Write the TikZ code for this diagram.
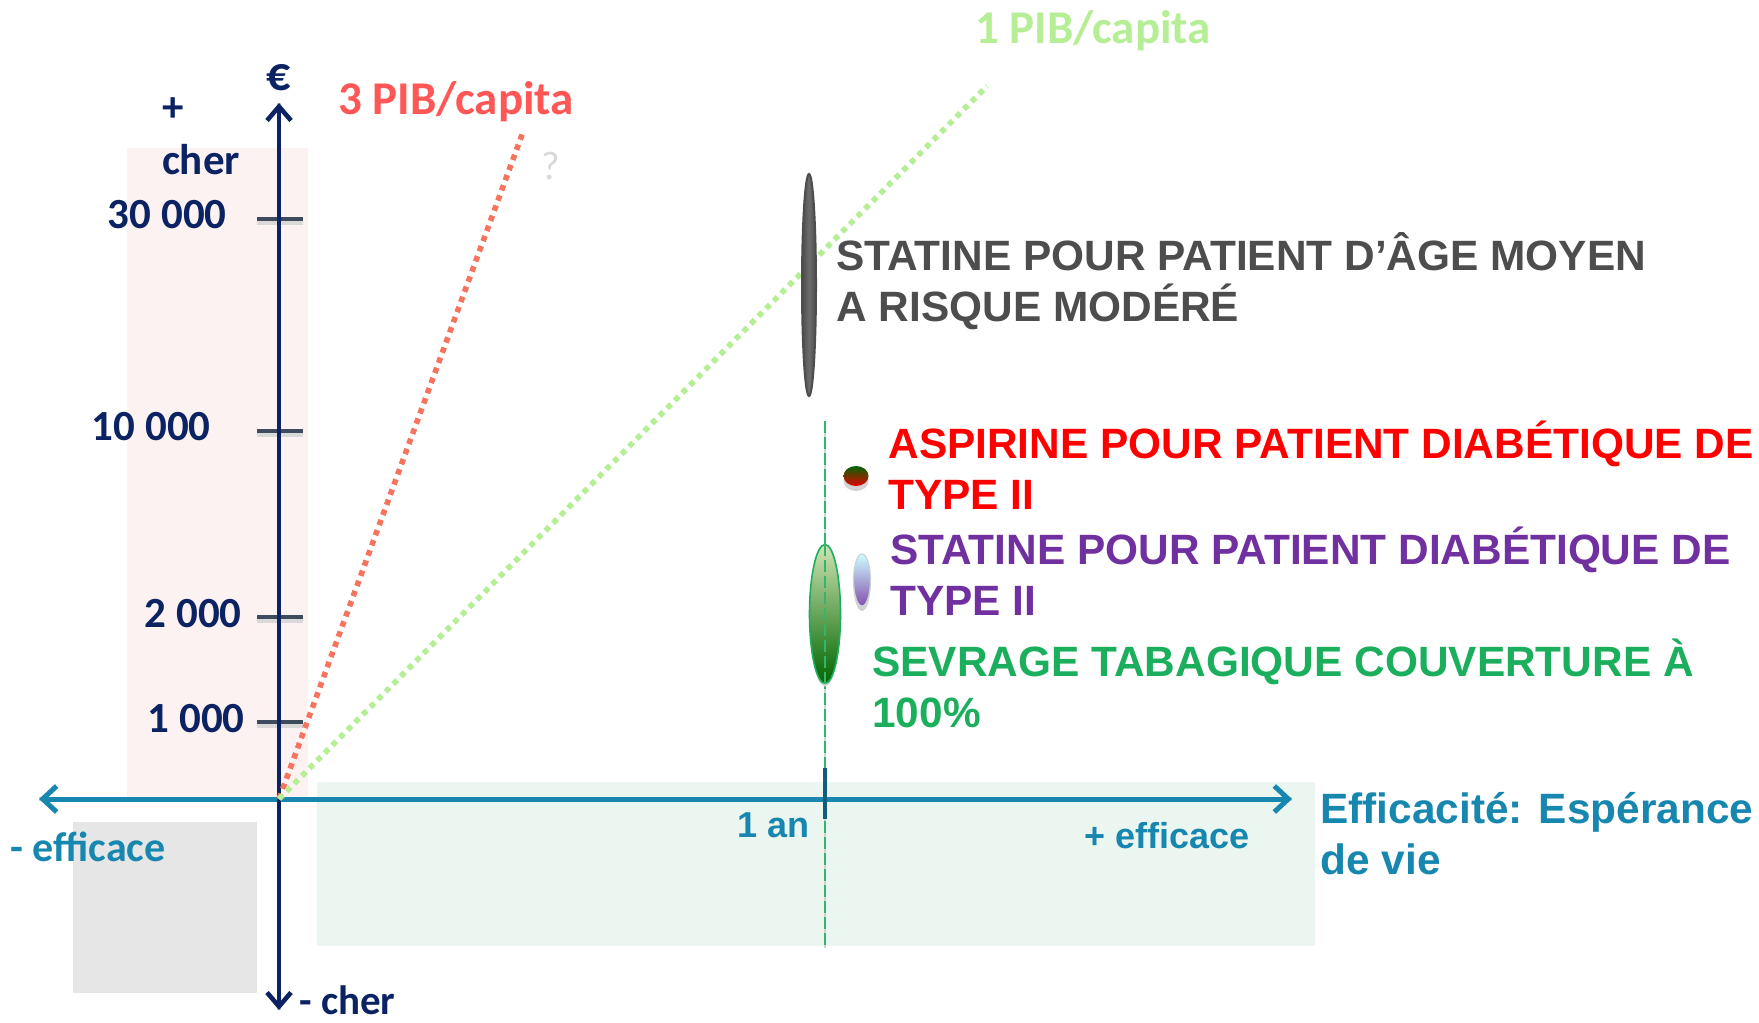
\documentclass[tikz,border=0pt]{standalone}
\usepackage{fontspec}
\setmainfont{Carlito}
\newfontfamily\arialfont{Liberation Sans}
\usetikzlibrary{arrows.meta,shapes.geometric,shadows}
\definecolor{navy}{HTML}{0B2363}
\definecolor{teal}{HTML}{1787AF}
\definecolor{tickgray}{HTML}{3D4B5C}
\definecolor{pinkbg}{HTML}{FDF2F2}
\definecolor{graybg}{HTML}{E6E6E6}
\definecolor{greenbg}{HTML}{ECF6F0}
\definecolor{redline}{HTML}{F6735E}
\definecolor{redlab}{HTML}{FF5656}
\definecolor{greenline}{HTML}{B6EE96}
\definecolor{darkgray}{HTML}{4D4D4D}
\definecolor{purp}{HTML}{7030A0}
\definecolor{sevgreen}{HTML}{1BAE5C}
\begin{document}
\begin{tikzpicture}[x=0.5pt,y=-0.5pt,
    axisy/.style={navy,line width=2.3pt,{Straight Barb[length=7pt,width=12pt]}-{Straight Barb[length=7pt,width=12pt]}},
    axisx/.style={teal,line width=2.5pt,{Straight Barb[length=7pt,width=13pt]}-{Straight Barb[length=7pt,width=13pt]}},
    shade line/.style={gray!35,line width=2.2pt,xshift=1pt,yshift=-1.5pt},
    tickmark/.style={tickgray,line width=2.2pt},
    ylab/.style={navy,font=\bfseries\fontsize{21.5}{24}\selectfont,inner sep=0pt},
    caption/.style={font=\arialfont\bfseries\fontsize{21.2}{25.5}\selectfont,align=left,inner sep=0pt,anchor=west},
    xlab/.style={teal,inner sep=0pt},
    ratio/.style={line width=2.8pt,dash pattern=on 2.8pt off 2.6pt}]
\useasboundingbox (0,0) rectangle (1759,1022);
\fill[pinkbg] (127,148) rectangle (308,799);
\fill[graybg] (73,822) rectangle (257,993);
\fill[greenbg] (317,782) rectangle (1315,946);
\coordinate (O) at (279,799);
\coordinate (ytop) at (279,103);
\coordinate (ybot) at (279,1010);
\coordinate (xl) at (39,799);
\coordinate (xr) at (1292,799);
\coordinate (r3) at (523,132);
\coordinate (g1) at (987,86);
\coordinate (gtop) at (825,421);
\coordinate (gbot) at (825,948);
\coordinate (antop) at (825,768);
\coordinate (anbot) at (825,819);
\foreach \y in {219,431,617,722}{
  \draw[gray!30,line width=2pt] (257,\y+4) -- (303,\y+4);
  \draw[tickmark] (257,\y) -- (303,\y);
}
\draw[shade line] (ybot) -- (ytop);
\draw[shade line] (xl) -- (xr);
\draw[axisx] (xl) -- (xr);
\draw[axisy] (ybot) -- (ytop);
\draw[redline,ratio] (O) -- (r3);
\draw[greenline,ratio] (O) -- (g1);
\draw[gray!35,line width=1.3pt] (gtop) -- (gbot);
\draw[sevgreen!90,line width=1.3pt,dash pattern=on 6pt off 2pt] (gtop) -- (gbot);
\draw[teal!70!black,line width=2pt] (antop) -- (anbot);
\node[ylab,anchor=east] (v30) at (227,215) {30 000};
\node[ylab,anchor=east] (v10) at (211,427) {10 000};
\node[ylab,anchor=east] (v2) at (242,614) {2 000};
\node[ylab,anchor=east] (v1) at (245,719) {1 000};
\node[ylab] (plus) at (173,110) {+};
\node[ylab] (cher) at (201,160) {cher};
\node[navy,font=\bfseries\fontsize{24}{28}\selectfont,inner sep=0pt] (euro) at (279,78) {€};
\node[navy,font=\bfseries\fontsize{20.5}{24}\selectfont,inner sep=0pt,anchor=west] (mcher) at (299,1000) {- cher};
\node[redlab,font=\bfseries\fontsize{23.5}{26}\selectfont,inner sep=0pt] (pib3) at (456,102) {3 PIB/capita};
\node[greenline,font=\bfseries\fontsize{23.5}{26}\selectfont,inner sep=0pt] (pib1) at (1093,31) {1 PIB/capita};
\node[gray!30,font=\fontsize{20}{22}\selectfont,inner sep=0pt] (qm) at (551,166) {?};
\node[xlab,font=\bfseries\fontsize{21}{24}\selectfont] (meff) at (88,847) {- efficace};
\node[xlab,font=\arialfont\bfseries\fontsize{18}{22}\selectfont] (an) at (774,825) {1 an};
\node[xlab,font=\arialfont\bfseries\fontsize{18}{22}\selectfont] (peff) at (1167,836) {+ efficace};
\node[caption,teal] (eff) at (1320,834) {Efficacité: Espérance\\de vie};
\node[ellipse,draw=darkgray,line width=1pt,minimum width=7pt,minimum height=111pt,inner sep=0pt,
  left color=darkgray,right color=darkgray,middle color=gray!60!darkgray] (emoy) at (809,285) {};
\node[ellipse,draw=sevgreen,line width=0.8pt,minimum width=15.5pt,minimum height=69.5pt,inner sep=0pt,
  top color=green!25!olive!30,bottom color=green!40!black,drop shadow={shadow xshift=0pt,shadow yshift=-1.5pt,fill=gray!30,opacity=1}] (esev) at (825,614) {};
\draw[sevgreen!90,line width=1.3pt,dash pattern=on 6pt off 2pt] (esev.north) -- (esev.south);
\node[ellipse,minimum width=12.5pt,minimum height=10pt,inner sep=0pt,
  top color=green!40!black,bottom color=red!90!black,drop shadow={shadow xshift=0pt,shadow yshift=-2.5pt,fill=gray!35,opacity=1}] (easp) at (856,476) {};
\node[ellipse,draw=cyan!20!gray!40,line width=0.6pt,minimum width=8.5pt,minimum height=26pt,inner sep=0pt,
  top color=cyan!20,bottom color=purp!85,drop shadow={shadow xshift=0pt,shadow yshift=-2.5pt,fill=gray!35,opacity=1}] (esta) at (862,580) {};
\node[caption,darkgray] (tmoy) at (836,281) {STATINE POUR PATIENT D’ÂGE MOYEN\\A RISQUE MODÉRÉ};
\node[caption,red] (tasp) at (888,465) {ASPIRINE POUR PATIENT DIABÉTIQUE DE\\TYPE II};
\node[caption,purp] (tsta) at (890,571) {STATINE POUR PATIENT DIABÉTIQUE DE\\TYPE II};
\node[caption,sevgreen] (tsev) at (872,683) {SEVRAGE TABAGIQUE COUVERTURE À\\100\%};
\end{tikzpicture}
\end{document}
